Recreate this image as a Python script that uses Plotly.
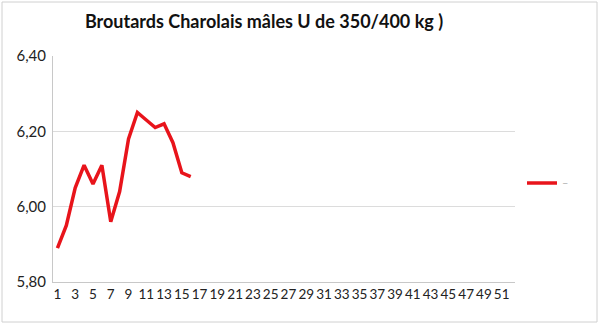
import plotly.graph_objects as go

weeks = list(range(1, 53))
week_labels = [str(w) for w in range(1, 52, 2)]
prices = [5.89, 5.95, 6.05, 6.11, 6.06, 6.11, 5.96, 6.04, 6.18, 6.25,
          6.23, 6.21, 6.22, 6.17, 6.09, 6.08]
y_ticks = [5.80, 6.00, 6.20, 6.40]
title_text = "Broutards Charolais mâles U de 350/400 kg )"

W, H = 600, 325
L, R, T, B = 53, 85, 56, 43
pw, ph = W - L - R, H - T - B

fig = go.Figure()
fig.add_trace(go.Scatter(
    x=weeks[:len(prices)], y=prices, mode="lines",
    line=dict(color="#e8141b", width=3.5),
    name="<span style='color:#b4b4b4'>–</span>", showlegend=True,
))

fig.update_layout(
    width=W, height=H,
    margin=dict(l=L, r=R, t=T, b=B),
    paper_bgcolor="white", plot_bgcolor="white",
    separators=",.",
    font=dict(family="Lato, Open Sans, sans-serif", color="#222", size=13),
    title=dict(text="<b>" + title_text + "</b>", x=264 / W, xanchor="center",
               y=1 - 22 / H, yanchor="middle",
               font=dict(size=18, color="#111")),
    xaxis=dict(range=[0.5, 52.5], tickmode="array",
               tickvals=list(range(1, 52, 2)), ticktext=week_labels,
               showgrid=False, showline=True, linecolor="#c8c8c8", linewidth=1,
               ticks="", zeroline=False, tickfont=dict(size=13.5)),
    yaxis=dict(range=[5.80, 6.40], tickvals=y_ticks, tickformat=".2f",
               showgrid=True, gridcolor="#dcdcdc", gridwidth=1,
               showline=True, linecolor="#c8c8c8", linewidth=1,
               ticks="", zeroline=False, tickfont=dict(size=15), ticklabelstandoff=3),
    legend=dict(x=(522 - L) / pw, y=1 - (183 - T) / ph, xanchor="left", yanchor="middle",
                bgcolor="rgba(0,0,0,0)", font=dict(size=11), itemwidth=30),
    showlegend=True,
)

fig.add_shape(type="rect", xref="paper", yref="paper",
              x0=(2 - L) / pw, x1=(597 - L) / pw,
              y0=1 - (322 - T) / ph, y1=1 - (2 - T) / ph,
              line=dict(color="#d0d0d0", width=1), layer="below")

fig.write_html("out.html")
